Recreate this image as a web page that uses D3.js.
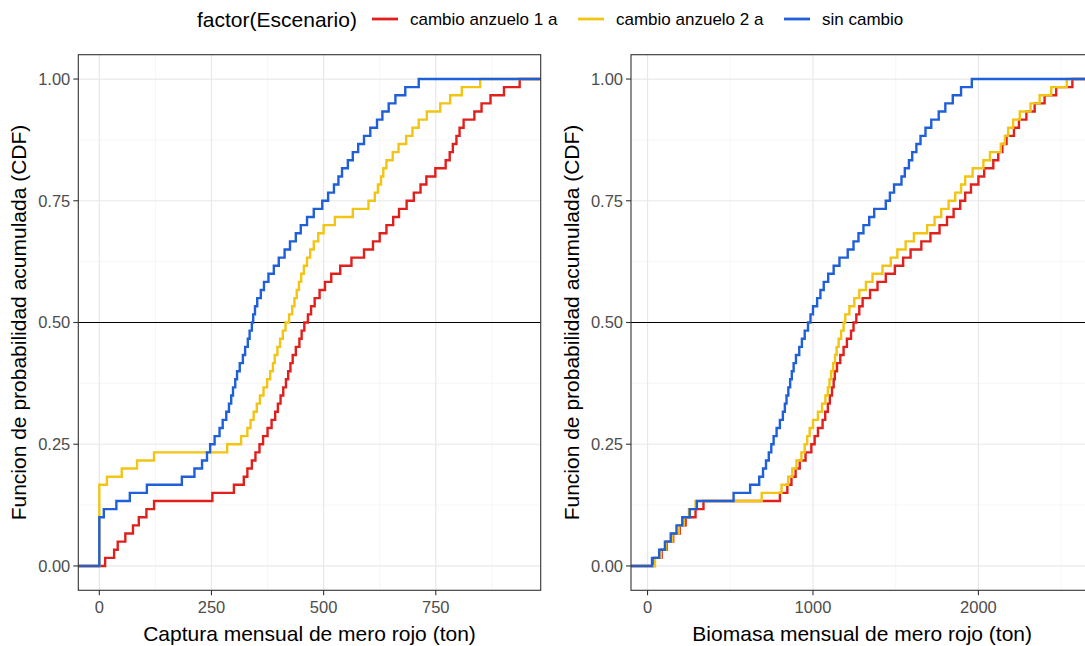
<!DOCTYPE html>
<html lang="es">
<head>
<meta charset="utf-8">
<title>CDF mero rojo</title>
<script src="https://cdn.jsdelivr.net/npm/d3@7"></script>
<style>
  body { margin: 0; background: white; }
  text { font-family: "Liberation Sans", Arial, sans-serif; }
</style>
</head>
<body>
<script>

// escenarios (legend order) and their colours
var escenarios = ["cambio anzuelo 1 a", "cambio anzuelo 2 a", "sin cambio"]
var colores = ["#e0201c", "#f2c414", "#1f5fd8"]

// captura mensual (ton), 60 simulated months per escenario, read off the steps
var captura_anzuelo1 = [13, 33, 41, 58, 75, 88, 105, 122, 252, 300,
  322, 330, 340, 348, 357, 365, 375, 384, 392, 398,
  404, 410, 416, 421, 426, 431, 438, 446, 451, 457,
  465, 472, 480, 491, 503, 517, 537, 562, 590, 610,
  625, 640, 655, 668, 685, 701, 716, 729, 749, 772,
  781, 788, 796, 803, 812, 836, 852, 872, 902, 937]
var captura_anzuelo2 = [0, 0, 0, 0, 0, 0, 0, 0, 0, 0,
  17, 50, 84, 122, 285, 316, 330, 337, 344, 351,
  358, 366, 374, 381, 387, 391, 397, 403, 409, 415,
  423, 430, 435, 440, 445, 450, 456, 463, 470, 478,
  488, 500, 525, 565, 600, 614, 621, 628, 633, 640,
  654, 667, 684, 698, 712, 730, 760, 782, 808, 849]
var captura_sincambio = [0, 0, 0, 0, 0, 0, 10, 38, 68, 106,
  184, 212, 229, 240, 247, 257, 268, 275, 283, 289,
  294, 298, 303, 307, 313, 320, 325, 331, 335, 340,
  343, 347, 352, 360, 367, 377, 389, 400, 413, 425,
  438, 449, 463, 478, 497, 510, 523, 533, 541, 554,
  565, 577, 590, 604, 619, 631, 645, 660, 682, 712]

// biomasa mensual (ton)
var biomasa_anzuelo1 = [40, 85, 115, 155, 195, 230, 290, 338, 800, 845,
  870, 895, 920, 955, 990, 1010, 1030, 1058, 1074, 1090,
  1102, 1115, 1125, 1132, 1145, 1165, 1185, 1205, 1230, 1245,
  1262, 1280, 1300, 1345, 1390, 1440, 1495, 1545, 1590, 1655,
  1710, 1765, 1810, 1850, 1890, 1920, 1955, 2000, 2035, 2090,
  2120, 2145, 2170, 2215, 2245, 2290, 2340, 2400, 2470, 2568]
var biomasa_anzuelo2 = [45, 80, 110, 150, 190, 220, 250, 290, 690, 810,
  850, 875, 900, 930, 950, 965, 980, 1000, 1030, 1055,
  1075, 1090, 1100, 1110, 1122, 1133, 1143, 1155, 1170, 1185,
  1195, 1220, 1250, 1280, 1320, 1360, 1420, 1470, 1510, 1560,
  1610, 1690, 1735, 1775, 1820, 1860, 1895, 1920, 1965, 2030,
  2070, 2135, 2160, 2180, 2210, 2250, 2315, 2370, 2440, 2534]
var biomasa_sincambio = [27, 70, 105, 140, 175, 210, 255, 298, 520, 620,
  675, 698, 716, 733, 748, 762, 780, 800, 818, 830,
  840, 851, 862, 872, 883, 897, 917, 933, 950, 970,
  985, 1000, 1025, 1045, 1065, 1092, 1125, 1160, 1210, 1245,
  1275, 1305, 1340, 1370, 1440, 1465, 1490, 1535, 1555, 1580,
  1600, 1625, 1650, 1680, 1715, 1760, 1800, 1845, 1895, 1960]

// tick labels
var yTicks = [0, 0.25, 0.5, 0.75, 1]
var capturaTicks = [0, 250, 500, 750]
var biomasaTicks = [0, 1000, 2000]

var yTitle = "Funcion de probabilidad acumulada (CDF)"

var svg = d3.select("body").append("svg")
  .attr("width", 1085)
  .attr("height", 646)

var top_y = 54.7
var bottom_y = 590.3
var panel_w = 462.4

var y = d3.scaleLinear().domain([-0.05, 1.05]).range([bottom_y, top_y])

var drawPanel = function(left, series, ticks, xTitle, clipId){
  // ggplot style 5% expansion on each side
  var all = d3.merge(series)
  var lo = d3.min(all), hi = d3.max(all)
  var pad = (hi - lo) * 0.05
  var x = d3.scaleLinear().domain([lo - pad, hi + pad]).range([left, left + panel_w])

  var g = svg.append("g")

  svg.append("clipPath").attr("id", clipId)
    .append("rect")
    .attr("x", left).attr("y", top_y)
    .attr("width", panel_w).attr("height", bottom_y - top_y)

  // minor grid
  var step = ticks[1] - ticks[0]
  var minorX = d3.range(ticks[0] - step / 2, hi + pad, step).filter(function(v){ return v > lo - pad })
  var minorY = [0.125, 0.375, 0.625, 0.875]
  g.selectAll(".mx").data(minorX).enter().append("line")
    .attr("x1", function(d){ return x(d) }).attr("x2", function(d){ return x(d) })
    .attr("y1", top_y).attr("y2", bottom_y)
    .attr("stroke", "#f2f2f2").attr("stroke-width", 0.7)
  g.selectAll(".my").data(minorY).enter().append("line")
    .attr("x1", left).attr("x2", left + panel_w)
    .attr("y1", function(d){ return y(d) }).attr("y2", function(d){ return y(d) })
    .attr("stroke", "#f2f2f2").attr("stroke-width", 0.7)

  // major grid
  g.selectAll(".gx").data(ticks).enter().append("line")
    .attr("x1", function(d){ return x(d) }).attr("x2", function(d){ return x(d) })
    .attr("y1", top_y).attr("y2", bottom_y)
    .attr("stroke", "#e8e8e8").attr("stroke-width", 1.2)
  g.selectAll(".gy").data(yTicks).enter().append("line")
    .attr("x1", left).attr("x2", left + panel_w)
    .attr("y1", function(d){ return y(d) }).attr("y2", function(d){ return y(d) })
    .attr("stroke", "#e8e8e8").attr("stroke-width", 1.2)

  // reference line at 0.5
  g.append("line")
    .attr("x1", left).attr("x2", left + panel_w)
    .attr("y1", y(0.5)).attr("y2", y(0.5))
    .attr("stroke", "black").attr("stroke-width", 1.2)

  // ecdf steps, padded to the panel edges
  var line = d3.line()
    .x(function(d){ return x(d[0]) })
    .y(function(d){ return y(d[1]) })
    .curve(d3.curveStepAfter)

  series.forEach(function(vals, i){
    var sorted = vals.slice().sort(d3.ascending)
    var n = sorted.length
    var pts = [[lo - pad, 0]]
    sorted.forEach(function(v, k){ pts.push([v, (k + 1) / n]) })
    pts.push([hi + pad, 1])
    g.append("path")
      .attr("d", line(pts))
      .attr("clip-path", "url(#" + clipId + ")")
      .attr("fill", "none")
      .attr("stroke", colores[i])
      .attr("stroke-width", 2.4)
  })

  // border
  g.append("rect")
    .attr("x", left).attr("y", top_y)
    .attr("width", panel_w).attr("height", bottom_y - top_y)
    .attr("fill", "none").attr("stroke", "#333333").attr("stroke-width", 1.1)

  // y axis ticks + labels
  g.selectAll(".ty").data(yTicks).enter().append("line")
    .attr("x1", left - 5).attr("x2", left)
    .attr("y1", function(d){ return y(d) }).attr("y2", function(d){ return y(d) })
    .attr("stroke", "#333333").attr("stroke-width", 1.1)
  g.selectAll(".ly").data(yTicks).enter().append("text")
    .attr("x", left - 8).attr("y", function(d){ return y(d) })
    .attr("dy", "0.36em")
    .attr("text-anchor", "end")
    .attr("font-size", 16.5).attr("fill", "#4d4d4d")
    .text(d3.format(".2f"))

  // x axis ticks + labels
  g.selectAll(".tx").data(ticks).enter().append("line")
    .attr("x1", function(d){ return x(d) }).attr("x2", function(d){ return x(d) })
    .attr("y1", bottom_y).attr("y2", bottom_y + 5)
    .attr("stroke", "#333333").attr("stroke-width", 1.1)
  g.selectAll(".lx").data(ticks).enter().append("text")
    .attr("x", function(d){ return x(d) }).attr("y", bottom_y + 23)
    .attr("text-anchor", "middle")
    .attr("font-size", 16.5).attr("fill", "#4d4d4d")
    .text(function(d){ return d })

  // titles
  g.append("text")
    .attr("x", left + panel_w / 2).attr("y", 641)
    .attr("text-anchor", "middle")
    .attr("font-size", 21).attr("fill", "black")
    .text(xTitle)
  g.append("text")
    .attr("transform", "translate(" + (left - 52) + "," + ((top_y + bottom_y) / 2) + ") rotate(-90)")
    .attr("text-anchor", "middle")
    .attr("font-size", 21).attr("fill", "black")
    .text(yTitle)
}

drawPanel(78.3, [captura_anzuelo1, captura_anzuelo2, captura_sincambio],
  capturaTicks, "Captura mensual de mero rojo (ton)", "clipA")
drawPanel(631, [biomasa_anzuelo1, biomasa_anzuelo2, biomasa_sincambio],
  biomasaTicks, "Biomasa mensual de mero rojo (ton)", "clipB")

// legend across the top
var legend = svg.append("g")
legend.append("text")
  .attr("x", 197).attr("y", 27)
  .attr("font-size", 21).attr("fill", "black")
  .text("factor(Escenario)")

var keyX = [372, 578, 784]
escenarios.forEach(function(name, i){
  legend.append("line")
    .attr("x1", keyX[i]).attr("x2", keyX[i] + 26)
    .attr("y1", 19).attr("y2", 19)
    .attr("stroke", colores[i]).attr("stroke-width", 2.8)
  legend.append("text")
    .attr("x", keyX[i] + 38).attr("y", 25)
    .attr("font-size", 17).attr("fill", "black")
    .text(name)
})

</script>
</body>
</html>
